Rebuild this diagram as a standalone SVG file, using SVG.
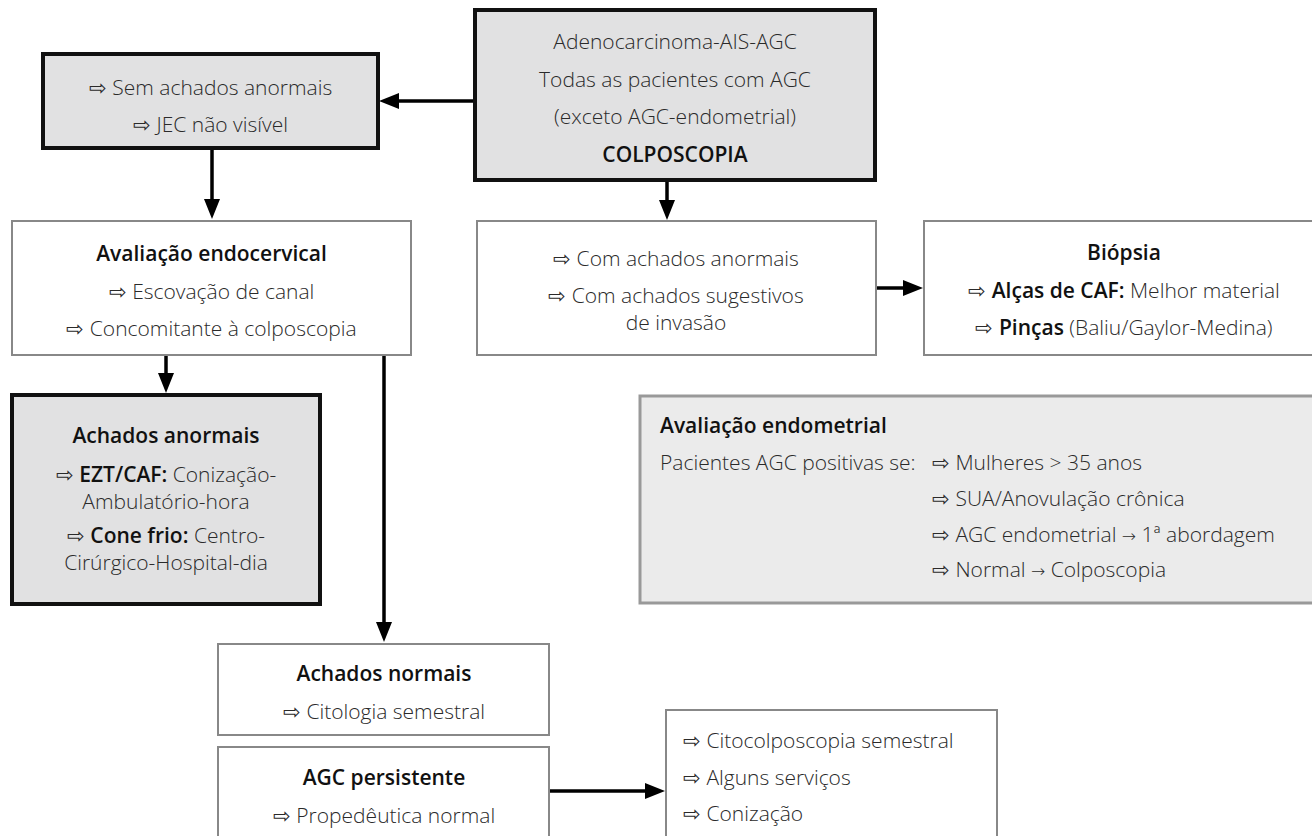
<svg xmlns="http://www.w3.org/2000/svg" width="1312" height="836" viewBox="0 0 1312 836">
<style>
.t{font-family:"Open Sans","Liberation Sans","DejaVu Sans",sans-serif;font-size:21px;fill:#2a2a2a;font-weight:300}
.c{text-anchor:middle}
.b{font-weight:600;fill:#111}
.ar{font-family:"DejaVu Sans",sans-serif;font-size:17px;font-weight:300}
.dark{fill:#e1e1e2;stroke:#111;stroke-width:4}
.light{fill:#fff;stroke:#888;stroke-width:2}
.endo{fill:#ebebeb;stroke:#999;stroke-width:3}
.con{fill:none;stroke:#000;stroke-width:3.5;marker-end:url(#ah)}
</style>
<defs>
<marker id="ah" markerUnits="userSpaceOnUse" viewBox="0 0 20 16" refX="14" refY="8" markerWidth="20" markerHeight="16" orient="auto">
<path d="M0,0 L20,8 L0,16 z" fill="#000"/>
</marker>
</defs>
<rect width="1312" height="836" fill="#fff"/>

<g id="connectors">
<line class="con" x1="475" y1="101" x2="385" y2="101"/>
<line class="con" x1="212" y1="148" x2="212" y2="213"/>
<line class="con" x1="667" y1="180" x2="667" y2="214"/>
<line class="con" x1="876" y1="288" x2="917" y2="288"/>
<line class="con" x1="166" y1="355" x2="166" y2="387"/>
<line class="con" x1="384" y1="355" x2="384" y2="636"/>
<line class="con" x1="549" y1="791" x2="659" y2="791"/>
</g>

<g id="n-top">
<rect class="dark" x="475" y="10" width="400" height="170"/>
<text class="t c" x="675" y="49">Adenocarcinoma-AIS-AGC</text>
<text class="t c" x="675" y="87">Todas as pacientes com AGC</text>
<text class="t c" x="675" y="124">(exceto AGC-endometrial)</text>
<text class="t c b" x="675" y="162">COLPOSCOPIA</text>
</g>

<g id="n-sem">
<rect class="dark" x="43" y="54" width="335" height="94"/>
<text class="t c" x="210.5" y="95">⇨ Sem achados anormais</text>
<text class="t c" x="210.5" y="132">⇨ JEC não visível</text>
</g>

<g id="n-endocervical">
<rect class="light" x="12" y="221" width="399" height="134"/>
<text class="t c b" x="211.5" y="261">Avaliação endocervical</text>
<text class="t c" x="211.5" y="299">⇨ Escovação de canal</text>
<text class="t c" x="211.5" y="336">⇨ Concomitante à colposcopia</text>
</g>

<g id="n-com">
<rect class="light" x="477" y="221" width="399" height="134"/>
<text class="t c" x="676" y="266">⇨ Com achados anormais</text>
<text class="t c" x="676" y="303">⇨ Com achados sugestivos</text>
<text class="t c" x="676" y="330">de invasão</text>
</g>

<g id="n-biopsia">
<rect class="light" x="924" y="221" width="400" height="134"/>
<text class="t c b" x="1124" y="260">Biópsia</text>
<text class="t c" x="1124" y="298">⇨ <tspan class="b">Alças de CAF:</tspan> Melhor material</text>
<text class="t c" x="1124" y="335">⇨ <tspan class="b">Pinças</tspan> (Baliu/Gaylor-Medina)</text>
</g>

<g id="n-anormais">
<rect class="dark" x="12" y="395" width="308" height="209"/>
<text class="t c b" x="166" y="443">Achados anormais</text>
<text class="t c" x="166" y="482">⇨ <tspan class="b">EZT/CAF:</tspan> Conização-</text>
<text class="t c" x="166" y="509">Ambulatório-hora</text>
<text class="t c" x="166" y="543">⇨ <tspan class="b">Cone frio:</tspan> Centro-</text>
<text class="t c" x="166" y="570">Cirúrgico-Hospital-dia</text>
</g>

<g id="n-endometrial">
<rect class="endo" x="640" y="396" width="690" height="207"/>
<text class="t b" x="660" y="433">Avaliação endometrial</text>
<text class="t" x="660" y="470">Pacientes AGC positivas se:</text>
<text class="t" x="932" y="470">⇨ Mulheres &gt; 35 anos</text>
<text class="t" x="932" y="506">⇨ SUA/Anovulação crônica</text>
<text class="t" x="932" y="542">⇨ AGC endometrial <tspan class="ar">→</tspan> 1ª abordagem</text>
<text class="t" x="932" y="577">⇨ Normal <tspan class="ar">→</tspan> Colposcopia</text>
</g>

<g id="n-normais">
<rect class="light" x="218" y="644" width="331" height="91"/>
<text class="t c b" x="384" y="681">Achados normais</text>
<text class="t c" x="384" y="719">⇨ Citologia semestral</text>
</g>

<g id="n-persistente">
<rect class="light" x="218" y="747" width="331" height="110"/>
<text class="t c b" x="384" y="785">AGC persistente</text>
<text class="t c" x="384" y="823">⇨ Propedêutica normal</text>
</g>

<g id="n-seguimento">
<rect class="light" x="666" y="710" width="331" height="140"/>
<text class="t" x="683" y="748">⇨ Citocolposcopia semestral</text>
<text class="t" x="683" y="785">⇨ Alguns serviços</text>
<text class="t" x="683" y="821">⇨ Conização</text>
</g>
</svg>
